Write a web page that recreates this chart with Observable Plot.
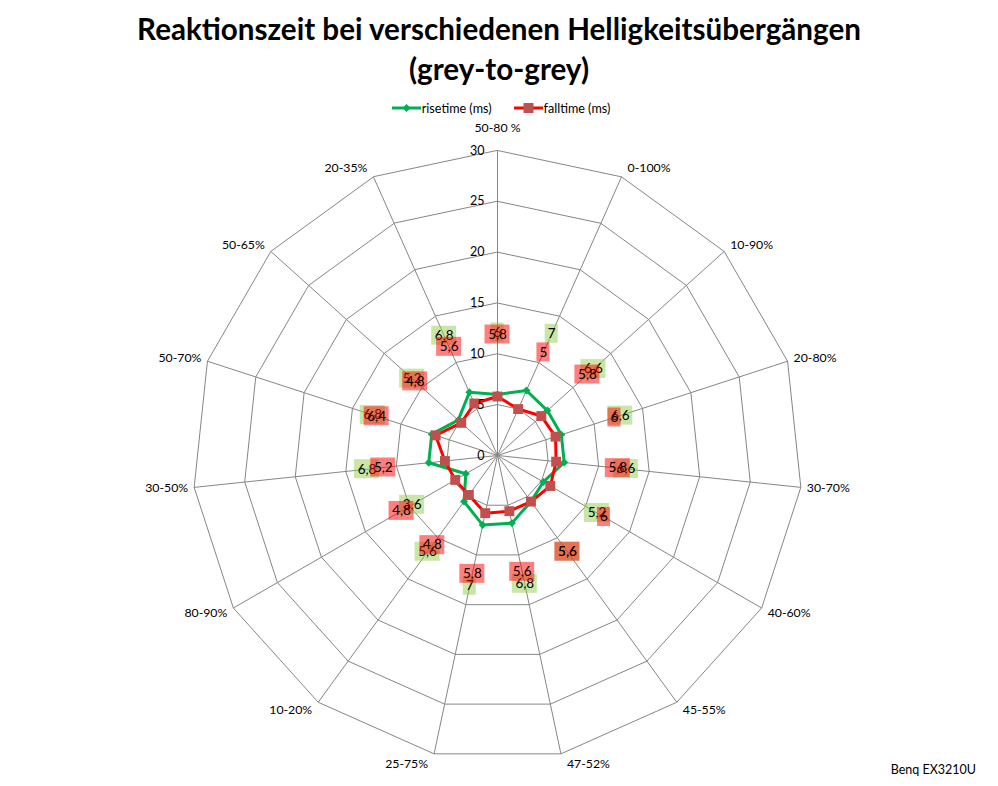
<!DOCTYPE html>
<html><head><meta charset="utf-8">
<script src="https://cdn.jsdelivr.net/npm/d3@7"></script>
<script src="https://cdn.jsdelivr.net/npm/@observablehq/plot@0.6"></script>
<style>
body{margin:0;background:#fff;font-family:Lato,"Open Sans",sans-serif;color:#000}
#wrap{position:relative;width:998px;height:786px;overflow:hidden;background:#fff}
#title{text-align:center;font-weight:bold;font-size:29.6px;line-height:40px;padding-top:9px;height:89px;box-sizing:content-box}
#legend{height:20px;display:flex;justify-content:center;align-items:center;font-size:12.6px;padding-left:4px}
#legend .item{display:flex;align-items:center}
#legend svg{margin-right:1px}
#caption{position:absolute;right:22px;top:762px;font-size:12.5px}
</style></head>
<body><div id="wrap">
<div id="title">Reaktionszeit bei verschiedenen Helligkeitsübergängen<br>(grey-to-grey)</div>
<div id="legend"></div>
<div id="chart"></div>
<div id="caption">Benq EX3210U</div>
</div>
<script>
const categories = ["50-80 %","0-100%","10-90%","20-80%","30-70%","40-60%","45-55%","47-52%","25-75%","10-20%","80-90%","30-50%","50-70%","50-65%","20-35%"];
const risetime = [6,7,6.6,6.6,6.6,5.2,5.6,6.8,7,5.6,3.6,6.8,6.8,5.2,6.8];
const falltime = [5.8,5,5.8,6,5.8,6,5.6,5.6,5.8,4.8,4.8,5.2,6.4,4.8,5.6];
const ticks = [0,5,10,15,20,25,30];
const seriesNames = ["risetime (ms)","falltime (ms)"];

const GREEN = "#00b050", RED = "#ff0000", MARK = "#c0504d", GRID = "#868686";
const N = categories.length;
const RMAX = d3.max(ticks);
const ang = i => i * 2 * Math.PI / N;
const px = (r, i) => r * Math.sin(ang(i));
const py = (r, i) => r * Math.cos(ang(i));
const fmt = v => String(v).replace(".", ",");
const LABEL_OFF = 6.1;
const UNIT = 305 / RMAX; // pixels per unit (set by range below)
const boxW = s => (s.length * 6 + 7) / UNIT;
const boxH = 19 / UNIT;

const rise = risetime.map((v, i) => ({v, i, s: fmt(v)}));
const fall = falltime.map((v, i) => ({v, i, s: fmt(v)}));
const cats = categories.map((c, i) => ({c, i}));
const rings = ticks.filter(t => t > 0).flatMap(r => d3.range(N).map(i => ({r, i})));

const lx = d => px(d.v + LABEL_OFF, d.i), ly = d => py(d.v + LABEL_OFF, d.i);
const boxes = (data, fill) => Plot.rect(data, {
  x1: d => lx(d) - boxW(d.s) / 2, x2: d => lx(d) + boxW(d.s) / 2,
  y1: d => ly(d) - boxH / 2, y2: d => ly(d) + boxH / 2, fill
});
const labels = data => Plot.text(data, {x: lx, y: ly, text: "s", fontSize: 13.5, fill: "#000"});

const catsRight = cats.filter(d => Math.sin(ang(d.i)) > 0.01);
const catsLeft = cats.filter(d => Math.sin(ang(d.i)) < -0.01);
const catsTop = cats.filter(d => Math.abs(Math.sin(ang(d.i))) <= 0.01);

const chart = Plot.plot({
  width: 998, height: 668, margin: 0,
  x: {domain: [-RMAX, RMAX], range: [192, 802], axis: null},
  y: {domain: [-RMAX, RMAX], range: [642, 32], axis: null},
  style: {fontFamily: "Lato, 'Open Sans', sans-serif", fontSize: "12px", background: "white", overflow: "visible", color: "#000"},
  marks: [
    Plot.line(rings, {x: d => px(d.r, d.i), y: d => py(d.r, d.i), z: "r", curve: "linear-closed", stroke: GRID, strokeWidth: 1}),
    Plot.link(cats, {x1: () => 0, y1: () => 0, x2: d => px(RMAX, d.i), y2: d => py(RMAX, d.i), stroke: GRID, strokeWidth: 1}),
    Plot.line(rise, {x: d => px(d.v, d.i), y: d => py(d.v, d.i), curve: "linear-closed", stroke: GREEN, strokeWidth: 3}),
    Plot.dot(rise, {x: d => px(d.v, d.i), y: d => py(d.v, d.i), symbol: "diamond2", r: 3.6, fill: GREEN}),
    Plot.line(fall, {x: d => px(d.v, d.i), y: d => py(d.v, d.i), curve: "linear-closed", stroke: RED, strokeWidth: 3}),
    Plot.dot(fall, {x: d => px(d.v, d.i), y: d => py(d.v, d.i), symbol: "square", r: 5.6, fill: MARK}),
    Plot.text(ticks, {x: () => 0, y: d => d, text: d => String(d), textAnchor: "end", dx: -13, fontSize: 12.5, fill: "#000"}),
    boxes(rise, "rgba(146,208,80,0.5)"),
    labels(rise),
    boxes(fall, "rgba(255,0,0,0.5)"),
    labels(fall),
    Plot.text(catsRight, {x: d => px(RMAX, d.i), y: d => py(RMAX + 1, d.i), text: "c", textAnchor: "start", dx: 6, fontSize: 12.3, fill: "#000"}),
    Plot.text(catsLeft, {x: d => px(RMAX, d.i), y: d => py(RMAX + 1, d.i), text: "c", textAnchor: "end", dx: -6, fontSize: 12.3, fill: "#000"}),
    Plot.text(catsTop, {x: d => px(RMAX, d.i), y: d => py(RMAX + 2.2, d.i), text: "c", textAnchor: "middle", fontSize: 12.3, fill: "#000"})
  ]
});
document.getElementById("chart").appendChild(chart);

// legend
const legend = d3.select("#legend");
[[GREEN, "diamond", seriesNames[0]], [RED, "square", seriesNames[1]]].forEach(([col, sym, name], k) => {
  const it = legend.append("div").attr("class", "item").style("margin-left", k ? "22px" : "0px");
  const s = it.append("svg").attr("width", 29).attr("height", 14);
  s.append("line").attr("x1", 0).attr("x2", 29).attr("y1", 7).attr("y2", 7).attr("stroke", col).attr("stroke-width", 3);
  if (sym === "diamond") s.append("path").attr("d", "M14.5,3 L18.5,7 L14.5,11 L10.5,7Z").attr("fill", GREEN);
  else s.append("rect").attr("x", 9.5).attr("y", 2).attr("width", 10).attr("height", 10).attr("fill", MARK);
  it.append("span").text(name);
});
</script>
</body></html>
